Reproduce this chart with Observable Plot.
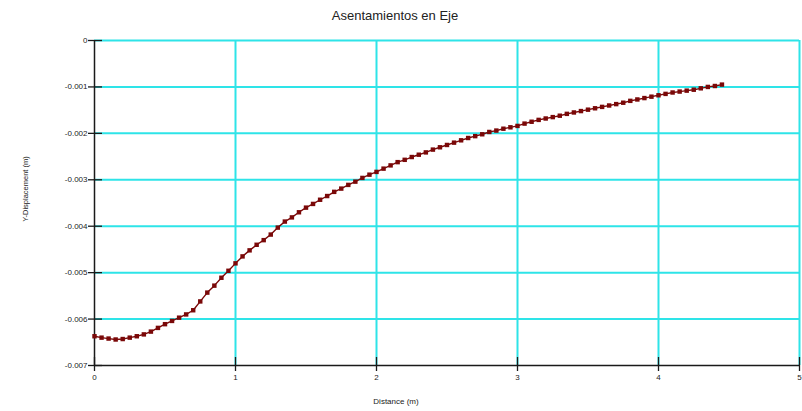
<!DOCTYPE html>
<html>
<head>
<meta charset="utf-8">
<script src="https://cdn.jsdelivr.net/npm/d3@7"></script>
<script src="https://cdn.jsdelivr.net/npm/@observablehq/plot@0.6"></script>
<style>
  html, body { margin: 0; padding: 0; background: #fff; }
  #wrap { position: relative; width: 802px; height: 411px; overflow: hidden; font-family: "Liberation Sans", Arial, sans-serif; color: #222; }
  #title { position: absolute; top: 8px; left: 0; width: 790px; text-align: center; font-size: 13px; line-height: 15px; color: #222; }
  #xlabel { position: absolute; top: 397px; left: 296px; width: 200px; text-align: center; font-size: 8px; line-height: 10px; color: #222; }
  #ylabel { position: absolute; left: 25px; top: 189px; transform: translate(-50%, -50%) rotate(-90deg); white-space: nowrap; font-size: 7.5px; line-height: 9px; color: #222; }
  svg { position: absolute; left: 0; top: 0; }
</style>
</head>
<body>
<div id="wrap">
  <div id="title">Asentamientos en Eje</div>
  <div id="ylabel">Y-Displacement (m)</div>
  <div id="xlabel">Distance (m)</div>
</div>
<script>
const distance = [
  0.00, 0.05, 0.10, 0.15, 0.20, 0.25, 0.30, 0.35, 0.40, 0.45,
  0.50, 0.55, 0.60, 0.65, 0.70, 0.75, 0.80, 0.85, 0.90, 0.95,
  1.00, 1.05, 1.10, 1.15, 1.20, 1.25, 1.30, 1.35, 1.40, 1.45,
  1.50, 1.55, 1.60, 1.65, 1.70, 1.75, 1.80, 1.85, 1.90, 1.95,
  2.00, 2.05, 2.10, 2.15, 2.20, 2.25, 2.30, 2.35, 2.40, 2.45,
  2.50, 2.55, 2.60, 2.65, 2.70, 2.75, 2.80, 2.85, 2.90, 2.95,
  3.00, 3.05, 3.10, 3.15, 3.20, 3.25, 3.30, 3.35, 3.40, 3.45,
  3.50, 3.55, 3.60, 3.65, 3.70, 3.75, 3.80, 3.85, 3.90, 3.95,
  4.00, 4.05, 4.10, 4.15, 4.20, 4.25, 4.30, 4.35, 4.40, 4.45
];
const yDisplacement = [
  -0.00637, -0.00640, -0.00642, -0.00644, -0.00643, -0.00640, -0.00637, -0.00633, -0.00627, -0.00619,
  -0.00611, -0.00604, -0.00597, -0.00590, -0.00581, -0.00562, -0.00543, -0.00528, -0.00511, -0.00496,
  -0.00480, -0.00465, -0.00452, -0.00440, -0.00430, -0.00418, -0.00403, -0.00390, -0.00381, -0.00370,
  -0.00360, -0.00352, -0.00343, -0.00335, -0.00326, -0.00319, -0.00311, -0.00304, -0.00296, -0.00289,
  -0.00283, -0.00276, -0.00269, -0.00262, -0.00257, -0.00251, -0.00246, -0.00241, -0.00235, -0.00230,
  -0.00225, -0.00220, -0.00215, -0.00210, -0.00206, -0.00202, -0.00197, -0.00194, -0.00190, -0.00187,
  -0.00184, -0.00179, -0.00175, -0.00171, -0.00168, -0.00165, -0.00162, -0.00158, -0.00155, -0.00152,
  -0.00149, -0.00146, -0.00143, -0.00140, -0.00137, -0.00134, -0.00130, -0.00127, -0.00124, -0.00121,
  -0.00118, -0.00115, -0.00112, -0.00110, -0.00108, -0.00106, -0.00103, -0.00100, -0.00098, -0.00095
];
const xTicks = [0, 1, 2, 3, 4, 5];
const xTickLabels = ["0", "1", "2", "3", "4", "5"];
const yTicks = [0, -0.001, -0.002, -0.003, -0.004, -0.005, -0.006, -0.007];
const yTickLabels = ["0", "-0.001", "-0.002", "-0.003", "-0.004", "-0.005", "-0.006", "-0.007"];

const data = distance.map((d, i) => ({distance: d, disp: yDisplacement[i]}));
const xFmt = v => xTickLabels[xTicks.indexOf(v)] ?? "";
const yFmt = v => { const i = yTicks.findIndex(t => Math.abs(t - v) < 1e-9); return i >= 0 ? yTickLabels[i] : ""; };

const grid = "#2ee4e8";
const ink = "#1a1a1a";
const red = "#7a0808";

const chart = Plot.plot({
  width: 802,
  height: 411,
  marginTop: 40,
  marginBottom: 46,
  marginLeft: 94,
  marginRight: 3,
  style: {fontFamily: "Liberation Sans, Arial, sans-serif", fontSize: "8px", color: "#222", background: "transparent"},
  x: {domain: [0, 5], axis: null},
  y: {domain: [-0.007, 0], axis: null},
  marks: [
    Plot.gridY(yTicks.filter(t => t > -0.007), {stroke: grid, strokeOpacity: 1, strokeWidth: 2}),
    Plot.gridX(xTicks.filter(t => t > 0), {stroke: grid, strokeOpacity: 1, strokeWidth: 2}),
    Plot.ruleX([0], {stroke: ink, strokeWidth: 1.5}),
    Plot.ruleY([-0.007], {stroke: ink, strokeWidth: 1.5}),
    // tick marks crossing the axes
    Plot.axisY({ticks: yTicks, tickSize: 14, dx: 8, tickFormat: () => "", label: null, stroke: ink, strokeWidth: 1.3}),
    Plot.axisX({ticks: xTicks, tickSize: 14, dy: -8, tickFormat: () => "", label: null, stroke: ink, strokeWidth: 1.3}),
    // tick labels
    Plot.axisY({ticks: yTicks, tickSize: 0, tickPadding: 7, tickFormat: yFmt, label: null, fill: "#222"}),
    Plot.axisX({ticks: xTicks, tickSize: 0, tickPadding: 9, tickFormat: xFmt, label: null, fill: "#222"}),
    Plot.line(data, {x: "distance", y: "disp", stroke: red, strokeWidth: 1.4}),
    Plot.dot(data, {x: "distance", y: "disp", symbol: "square", r: 2.5, fill: red, stroke: "none"})
  ]
});
document.getElementById("wrap").prepend(chart);
</script>
</body>
</html>
